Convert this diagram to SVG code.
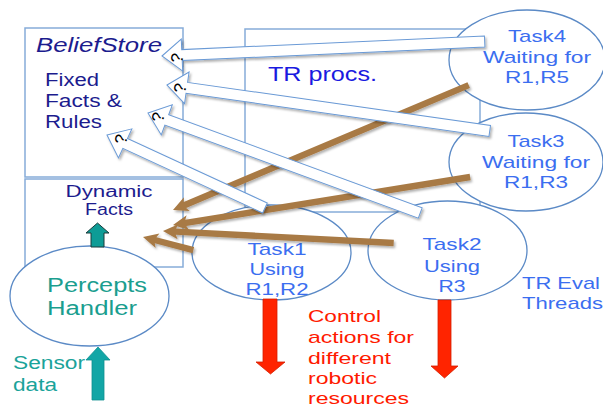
<svg xmlns="http://www.w3.org/2000/svg" width="603" height="407" viewBox="0 0 603 407">
<style>
.box{fill:#fff;stroke:#86acd9;stroke-width:1.5}
.ell{fill:#fff;stroke:#5b8ac6;stroke-width:1.3}
.t{font-family:"Liberation Sans",Arial,sans-serif}
.navy{fill:#1c1c8e}
.task{fill:#3b6ef0;font-size:17px}
.red{fill:#ff1a00;font-size:17px}
.teal{fill:#1b9e8f}
.warr{fill:#fff;stroke:#6a9ad6;stroke-width:1}
.barr{fill:#a87a45}
.q{font-family:"Liberation Sans",Arial,sans-serif;font-size:17px;fill:#000}
</style>
<defs>
<filter id="sh" x="-10%" y="-10%" width="120%" height="130%">
<feDropShadow dx="1.5" dy="2" stdDeviation="1.2" flood-color="#000" flood-opacity="0.3"/>
</filter>
</defs>
<rect width="603" height="407" fill="#fff"/>

<g id="beliefstore">
<rect class="box" x="25" y="28" width="158" height="149"/>
<rect class="box" x="25" y="179" width="158" height="88"/>
<text class="t navy" x="36" y="52" font-size="19.5" font-style="italic" textLength="126" lengthAdjust="spacingAndGlyphs">BeliefStore</text>
<text class="t navy" x="45" y="86" font-size="17.5" textLength="54" lengthAdjust="spacingAndGlyphs">Fixed</text>
<text class="t navy" x="45" y="107" font-size="17.5" textLength="77" lengthAdjust="spacingAndGlyphs">Facts &amp;</text>
<text class="t navy" x="45" y="128" font-size="17.5" textLength="57" lengthAdjust="spacingAndGlyphs">Rules</text>
<text class="t navy" x="109" y="197" font-size="16" text-anchor="middle" textLength="87" lengthAdjust="spacingAndGlyphs">Dynamic</text>
<text class="t navy" x="109" y="215" font-size="16" text-anchor="middle" textLength="48" lengthAdjust="spacingAndGlyphs">Facts</text>
</g>

<g id="trprocs">
<rect class="box" x="245" y="29" width="235" height="183"/>
<text class="t" x="268" y="81" font-size="19.5" fill="#1a1ae0" textLength="109" lengthAdjust="spacingAndGlyphs">TR procs.</text>
</g>

<g id="task4">
<ellipse class="ell" cx="527" cy="60" rx="78" ry="50"/>
<text class="t task" x="537" y="42" text-anchor="middle" textLength="58" lengthAdjust="spacingAndGlyphs">Task4</text>
<text class="t task" x="537" y="63" text-anchor="middle" textLength="108" lengthAdjust="spacingAndGlyphs">Waiting for</text>
<text class="t task" x="537" y="83" text-anchor="middle" textLength="64" lengthAdjust="spacingAndGlyphs">R1,R5</text>
</g>

<g id="task3">
<ellipse class="ell" cx="526" cy="162" rx="77" ry="49"/>
<text class="t task" x="536" y="147" text-anchor="middle" textLength="57" lengthAdjust="spacingAndGlyphs">Task3</text>
<text class="t task" x="536" y="168" text-anchor="middle" textLength="108" lengthAdjust="spacingAndGlyphs">Waiting for</text>
<text class="t task" x="536" y="188" text-anchor="middle" textLength="64" lengthAdjust="spacingAndGlyphs">R1,R3</text>
</g>

<g id="task1">
<ellipse class="ell" cx="271.5" cy="252.5" rx="79.5" ry="47.5"/>
<text class="t task" x="277" y="255" text-anchor="middle" textLength="59" lengthAdjust="spacingAndGlyphs">Task1</text>
<text class="t task" x="277" y="275" text-anchor="middle" textLength="55" lengthAdjust="spacingAndGlyphs">Using</text>
<text class="t task" x="277" y="295" text-anchor="middle" textLength="63" lengthAdjust="spacingAndGlyphs">R1,R2</text>
</g>

<g id="task2">
<ellipse class="ell" cx="447.5" cy="250.5" rx="79.5" ry="49.5"/>
<text class="t task" x="452" y="250" text-anchor="middle" textLength="59" lengthAdjust="spacingAndGlyphs">Task2</text>
<text class="t task" x="452" y="272" text-anchor="middle" textLength="56" lengthAdjust="spacingAndGlyphs">Using</text>
<text class="t task" x="452" y="292" text-anchor="middle" textLength="27" lengthAdjust="spacingAndGlyphs">R3</text>
</g>

<g id="percepts">
<ellipse class="ell" cx="89.5" cy="296" rx="79.5" ry="50"/>
<text class="t teal" x="47" y="292" font-size="19.5" textLength="100" lengthAdjust="spacingAndGlyphs">Percepts</text>
<text class="t teal" x="47" y="315" font-size="19.5" textLength="90" lengthAdjust="spacingAndGlyphs">Handler</text>
</g>

<g id="labels">
<text class="t task" x="522" y="289" textLength="78" lengthAdjust="spacingAndGlyphs">TR Eval</text>
<text class="t task" x="522" y="309" textLength="81" lengthAdjust="spacingAndGlyphs">Threads</text>
<text class="t red" x="308" y="322" textLength="73" lengthAdjust="spacingAndGlyphs">Control</text>
<text class="t red" x="308" y="343" textLength="106" lengthAdjust="spacingAndGlyphs">actions for</text>
<text class="t red" x="308" y="363.5" textLength="83" lengthAdjust="spacingAndGlyphs">different</text>
<text class="t red" x="308" y="384" textLength="69" lengthAdjust="spacingAndGlyphs">robotic</text>
<text class="t red" x="308" y="404" textLength="101" lengthAdjust="spacingAndGlyphs">resources</text>
<text class="t" x="13" y="369" font-size="17.5" fill="#1aa39a" textLength="72" lengthAdjust="spacingAndGlyphs">Sensor</text>
<text class="t" x="13" y="391" font-size="17.5" fill="#1aa39a" textLength="44" lengthAdjust="spacingAndGlyphs">data</text>
</g>

<g id="connectors">
<polygon points="97.5,223 109,233 104,233 104,247 91,247 91,233 86,233" fill="#0e9c96" stroke="#1b3b3b" stroke-width="1"/>
<polygon points="98,347 110,360 104,360 104,400 92,400 92,360 86,360" fill="#12a6a6" stroke="#0f8f8f" stroke-width="0.8"/>
<polygon points="263,299 277,299 277,362 285,362 270.5,374 256,362 263,362" fill="#ff2400" stroke="#d42000" stroke-width="0.8"/>
<polygon points="438,300 451,300 451,366 458,366 444.5,378 431,366 438,366" fill="#ff2400" stroke="#d42000" stroke-width="0.8"/>

<g filter="url(#sh)">
<path class="barr" transform="translate(173,210) rotate(-22.89)" d="M0,0 L15,-7.5 L13,-3.2 L321,-3.2 L321,3.2 L13,3.2 L15,7.5 Z"/>
<path class="barr" transform="translate(173,225) rotate(-9.18)" d="M0,0 L15,-7.5 L13,-3.2 L301,-3.2 L301,3.2 L13,3.2 L15,7.5 Z"/>
<path class="barr" transform="translate(163,231) rotate(2.97)" d="M0,0 L15,-7.5 L13,-3.2 L231,-3.2 L231,3.2 L13,3.2 L15,7.5 Z"/>
<path class="barr" transform="translate(143,237) rotate(14.57)" d="M0,0 L15,-7.5 L13,-3.2 L52,-3.2 L52,3.2 L13,3.2 L15,7.5 Z"/>
</g>

<g filter="url(#sh)">
<path class="warr" transform="translate(162,56) rotate(-2.57)" d="M0,0 L20,-16 L20,-5.5 L323,-5.5 L323,5.5 L20,5.5 L20,16 Z"/>
<path class="warr" transform="translate(167,85) rotate(8.11)" d="M0,0 L20,-16 L20,-5.5 L326,-5.5 L326,5.5 L20,5.5 L20,16 Z"/>
<path class="warr" transform="translate(148,113) rotate(20.18)" d="M0,0 L20,-16 L20,-5.5 L290,-5.5 L290,5.5 L20,5.5 L20,16 Z"/>
<path class="warr" transform="translate(107,135) rotate(24.8)" d="M0,0 L20,-16 L20,-5.5 L174,-5.5 L174,5.5 L20,5.5 L20,16 Z"/>
</g>

<text class="q" transform="translate(177,58) rotate(-80)" text-anchor="middle" y="6">?</text>
<text class="q" transform="translate(180,88) rotate(-80)" text-anchor="middle" y="6">?</text>
<text class="q" transform="translate(158,117) rotate(-80)" text-anchor="middle" y="6">?</text>
<text class="q" transform="translate(121,139) rotate(-80)" text-anchor="middle" y="6">?</text>
</g>
</svg>
